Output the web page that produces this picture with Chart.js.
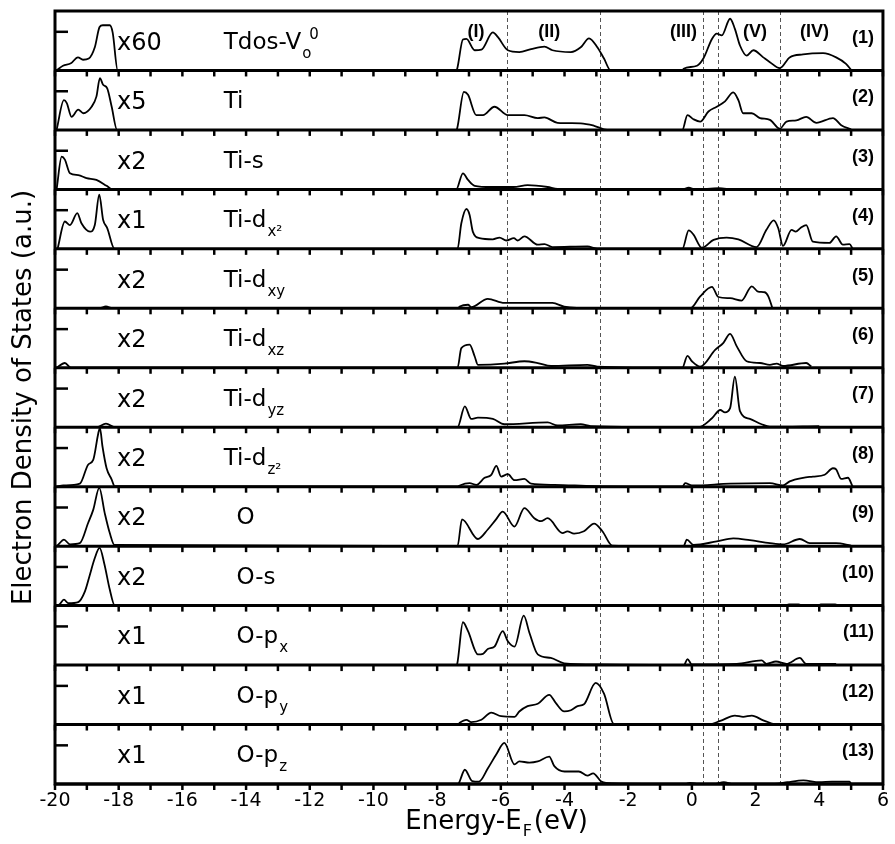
<!DOCTYPE html>
<html>
<head>
<meta charset="utf-8">
<script src="https://cdn.jsdelivr.net/npm/chart.js@4.4.1/dist/chart.umd.min.js"></script>
<style>
  html, body { margin: 0; padding: 0; background: #fff; }
  #wrap { width: 895px; height: 844px; }
</style>
</head>
<body>
<div id="wrap"><canvas id="dosChart"></canvas></div>
<script>
// partial DOS, one panel each, values in panel units (0 = baseline, 1 = panel top)
const tdos = [[-19.95,0],[-19.75,0.08],[-19.5,0.12],[-19.28,0.22],[-19.12,0.18],[-18.94,0.2],[-18.75,0.39],[-18.6,0.73],[-18.5,0.76],[-18.28,0.76],[-18.19,0.64],[-18.03,0],
  [-7.4,0],[-7.37,0.03],[-7.19,0.52],[-7.08,0.53],[-6.82,0.34],[-6.61,0.35],[-6.25,0.64],[-6.09,0.56],[-5.78,0.34],[-5.42,0.31],[-5.05,0.36],[-4.63,0.4],[-4.38,0.34],[-3.8,0.31],[-3.49,0.39],[-3.23,0.54],[-2.97,0.39],[-2.76,0.2],[-2.55,0],
  [-0.3,0],[-0.26,0.03],[0.16,0.08],[0.36,0.2],[0.63,0.53],[0.78,0.62],[0.94,0.59],[1.2,0.87],[1.35,0.7],[1.51,0.42],[1.72,0.25],[1.93,0.34],[2.24,0.22],[2.45,0.14],[2.76,0.04],[3.07,0.22],[3.49,0.27],[4.12,0.29],[4.53,0.22],[4.84,0.11],[5.0,0.01]];
const ti = [[-19.95,0],[-19.72,0.5],[-19.63,0.45],[-19.48,0.22],[-19.27,0.34],[-19.11,0.28],[-18.85,0.39],[-18.7,0.56],[-18.59,0.87],[-18.49,0.76],[-18.36,0.7],[-18.22,0.39],[-18.05,0],
  [-7.4,0],[-7.37,0.03],[-7.16,0.64],[-7.03,0.59],[-6.77,0.25],[-6.56,0.25],[-6.2,0.39],[-5.78,0.25],[-5.26,0.25],[-4.84,0.2],[-4.63,0.21],[-4.22,0.12],[-3.49,0.11],[-3.07,0.07],[-2.66,0],
  [-0.3,0],[-0.14,0.25],[0.05,0.18],[0.26,0.14],[0.52,0.31],[0.78,0.39],[1.04,0.48],[1.3,0.63],[1.46,0.5],[1.61,0.28],[1.88,0.28],[2.14,0.2],[2.45,0.17],[2.76,0.02],[2.97,0.14],[3.28,0.16],[3.59,0.22],[3.91,0.12],[4.43,0.2],[4.69,0.08],[5.0,0.01]];
const tiS = [[-19.95,0],[-19.79,0.55],[-19.69,0.5],[-19.53,0.27],[-19.27,0.24],[-19.01,0.19],[-18.7,0.16],[-18.38,0.06],[-18.2,0],
  [-7.4,0],[-7.19,0.27],[-7.03,0.16],[-6.82,0.06],[-6.3,0.04],[-5.6,0.04],[-5.16,0.07],[-4.53,0.04],[-4.22,0.01],
  [-0.3,0],[-0.1,0.03],[0.1,0],[0.85,0.02],[1.2,0]];
const tiDx2 = [[-19.92,0],[-19.69,0.46],[-19.53,0.4],[-19.3,0.6],[-19.17,0.43],[-18.9,0.29],[-18.75,0.4],[-18.61,0.91],[-18.49,0.49],[-18.36,0.35],[-18.13,0],
  [-7.36,0],[-7.24,0.43],[-7.08,0.67],[-6.98,0.57],[-6.88,0.29],[-6.67,0.18],[-6.25,0.16],[-6.04,0.19],[-5.83,0.14],[-5.59,0.18],[-5.47,0.14],[-5.26,0.21],[-4.84,0.07],[-4.63,0.08],[-4.38,0.03],[-3.28,0.04],[-2.97,0],
  [-0.3,0],[-0.1,0.31],[0.05,0.24],[0.31,0.02],[0.68,0.15],[1.09,0.19],[1.46,0.16],[2.03,0.03],[2.34,0.32],[2.57,0.48],[2.71,0.35],[2.86,0.05],[3.13,0.32],[3.26,0.29],[3.41,0.35],[3.59,0.4],[3.8,0.12],[4.32,0.1],[4.53,0.21],[4.74,0.07],[4.95,0.08],[5.05,0]];
const tiDxy = [[-19.95,0],[-18.6,0],[-18.4,0.03],[-18.2,0],
  [-7.35,0],[-7.29,0.03],[-7.03,0.06],[-6.93,0.02],[-6.41,0.16],[-5.89,0.09],[-5.05,0.09],[-4.38,0.09],[-4.01,0.03],[-3.07,0],
  [-0.05,0],[0.26,0.2],[0.63,0.36],[0.83,0.19],[1.2,0.17],[1.56,0.13],[1.88,0.37],[2.08,0.28],[2.29,0.27],[2.4,0.2],[2.53,0]];
const tiDxz = [[-19.95,0],[-19.69,0.08],[-19.5,0],
  [-7.36,0],[-7.24,0.33],[-6.98,0.39],[-6.82,0.19],[-6.72,0.05],[-5.89,0.07],[-5.26,0.11],[-4.84,0.08],[-4.42,0.03],[-3.28,0.05],[-2.97,0.02],
  [-0.3,0],[-0.14,0.2],[0.0,0.11],[0.26,0.02],[0.73,0.3],[0.99,0.42],[1.2,0.57],[1.41,0.36],[1.72,0.11],[2.14,0.08],[2.45,0.05],[2.66,0.07],[2.86,0.03],[3.59,0.08],[3.75,0.02]];
const tiDyz = [[-19.95,0],[-18.7,0],[-18.4,0.06],[-18.1,0],
  [-7.36,0],[-7.13,0.35],[-6.93,0.14],[-6.72,0.16],[-6.25,0.14],[-5.89,0.05],[-4.53,0.08],[-4.22,0.03],[-3.49,0.05],[-3.18,0.02],
  [0.2,0],[0.63,0.15],[0.89,0.29],[1.04,0.25],[1.2,0.32],[1.35,0.85],[1.51,0.27],[1.82,0.14],[2.19,0.05],[2.45,0.01],[4.0,0.02]];
const tiDz2 = [[-19.95,0],[-19.74,0.02],[-19.22,0.05],[-18.96,0.37],[-18.8,0.45],[-18.64,0.9],[-18.59,0.99],[-18.51,0.68],[-18.38,0.31],[-18.22,0.12],[-18.13,0.01],
  [-7.35,0],[-7.29,0.02],[-6.98,0.06],[-6.77,0.03],[-6.51,0.15],[-6.3,0.2],[-6.14,0.35],[-5.99,0.17],[-5.78,0.21],[-5.57,0.11],[-5.26,0.13],[-5.05,0.05],[-4.32,0.03],[-3.07,0.01],
  [-0.3,0],[-0.21,0.06],[0.0,0.02],[1.2,0.05],[2.45,0.06],[2.86,0.02],[3.07,0.09],[3.49,0.15],[3.8,0.17],[4.17,0.2],[4.43,0.31],[4.53,0.29],[4.69,0.13],[4.9,0.15],[5.05,0]];
const oTot = [[-19.95,0],[-19.89,0.03],[-19.72,0.11],[-19.53,0.03],[-19.22,0.05],[-18.96,0.39],[-18.8,0.61],[-18.61,0.98],[-18.44,0.56],[-18.28,0.22],[-18.13,0.02],
  [-7.36,0],[-7.22,0.45],[-6.72,0.12],[-6.41,0.28],[-6.15,0.45],[-5.94,0.58],[-5.57,0.33],[-5.26,0.64],[-4.95,0.47],[-4.74,0.42],[-4.53,0.47],[-4.06,0.22],[-3.91,0.25],[-3.7,0.21],[-3.39,0.25],[-3.07,0.38],[-2.81,0.25],[-2.5,0.01],
  [-0.26,0],[-0.16,0.11],[0.05,0.02],[0.78,0.08],[1.3,0.13],[1.82,0.1],[2.45,0.05],[2.86,0.03],[3.39,0.12],[3.7,0.05],[4.53,0.05],[5.0,0.01]];
const oS = [[-19.95,0],[-19.86,0.02],[-19.72,0.1],[-19.58,0.04],[-19.27,0.06],[-19.06,0.24],[-18.92,0.49],[-18.75,0.8],[-18.6,0.97],[-18.45,0.7],[-18.28,0.27],[-18.13,0.01],
  [2.9,0],[3.05,0.02],[3.35,0.02],[3.5,0],[3.95,0],[4.05,0.02],[4.5,0.02],[4.6,0]];
const oPx = [[-19.95,0],[-7.4,0],[-7.37,0.02],[-7.19,0.72],[-7.03,0.57],[-6.72,0.18],[-6.56,0.19],[-6.41,0.27],[-6.2,0.31],[-5.94,0.57],[-5.78,0.4],[-5.57,0.31],[-5.28,0.83],[-5.1,0.54],[-4.84,0.18],[-4.43,0.12],[-4.01,0.03],[-2.86,0.01],
  [-0.25,0],[-0.14,0.1],[0.0,0.01],[1.41,0.02],[2.19,0.08],[2.34,0.02],[2.64,0.06],[2.97,0.02],[3.39,0.12],[3.59,0.02],[4.53,0.02]];
const oPy = [[-19.95,0],[-7.35,0],[-7.29,0.03],[-7.08,0.08],[-6.93,0.04],[-6.61,0.08],[-6.3,0.2],[-5.99,0.14],[-5.57,0.13],[-5.42,0.22],[-5.16,0.31],[-4.84,0.35],[-4.48,0.5],[-4.27,0.36],[-4.01,0.22],[-3.8,0.24],[-3.59,0.31],[-3.39,0.34],[-3.02,0.7],[-2.76,0.52],[-2.45,0.01],
  [0.5,0],[0.89,0.06],[1.35,0.15],[1.61,0.13],[1.88,0.15],[2.24,0.07],[2.55,0.01]];
const oPz = [[-19.95,0],[-7.35,0],[-7.13,0.24],[-6.9,0.05],[-6.69,0.04],[-6.41,0.26],[-6.14,0.5],[-5.89,0.69],[-5.57,0.33],[-5.42,0.38],[-5.1,0.36],[-4.84,0.38],[-4.48,0.46],[-4.32,0.3],[-4.0,0.21],[-3.55,0.21],[-3.28,0.14],[-3.1,0.18],[-2.84,0.04],[-2.48,0.01],
  [-0.2,0],[-0.06,0.02],[0.2,0],[0.7,0],[1.0,0.03],[1.3,0],[2.6,0],[3.0,0.03],[3.5,0.06],[4.0,0.03],[4.4,0.04],[4.95,0.04],[5.0,0]];

const panelData = [tdos, ti, tiS, tiDx2, tiDxy, tiDxz, tiDyz, tiDz2, oTot, oS, oPx, oPy, oPz];
const factors = ['x60', 'x5', 'x2', 'x1', 'x2', 'x2', 'x2', 'x2', 'x2', 'x2', 'x1', 'x1', 'x1'];
const names = ['Tdos-V', 'Ti', 'Ti-s', 'Ti-d', 'Ti-d', 'Ti-d', 'Ti-d', 'Ti-d', 'O', 'O-s', 'O-p', 'O-p', 'O-p'];
const nameSubs = ['o', '', '', 'x²', 'xy', 'xz', 'yz', 'z²', '', '', 'x', 'y', 'z'];
const nameSups = ['0', '', '', '', '', '', '', '', '', '', '', '', ''];
const regionLabels = ['(I)', '(II)', '(III)', '(V)', '(IV)'];
const regionLabelE = [-6.78, -4.48, -0.26, 1.98, 3.85];
const regionBounds = [-5.81, -2.9, 0.34, 0.81, 2.78];
const yTickLevel = 0.65;

const FONT = '"DejaVu Sans", "Liberation Sans", Arial, sans-serif';
const BOLD_FONT = '"Liberation Sans", Arial, sans-serif';

function drawName(ctx, x, y, main, sub, sup) {
  ctx.font = '23px ' + FONT;
  ctx.fillText(main, x, y);
  const w = ctx.measureText(main).width;
  ctx.font = '15px ' + FONT;
  if (sub) ctx.fillText(sub, x + w + 1, y + 9);
  if (sup) ctx.fillText(sup, x + w + 8, y - 10);
}

const panelDecor = {
  id: 'panelDecor',
  beforeDatasetsDraw(chart) {
    const { ctx, chartArea } = chart;
    const xs = chart.scales.x;
    ctx.save();
    ctx.strokeStyle = '#555';
    ctx.lineWidth = 1;
    ctx.setLineDash([4, 3]);
    regionBounds.forEach(e => {
      const px = Math.round(xs.getPixelForValue(e)) + 0.5;
      ctx.beginPath();
      ctx.moveTo(px, chartArea.top);
      ctx.lineTo(px, chartArea.bottom);
      ctx.stroke();
    });
    ctx.restore();
  },
  afterDraw(chart) {
    const { ctx, chartArea } = chart;
    const xs = chart.scales.x;
    ctx.save();
    ctx.strokeStyle = '#000';
    ctx.fillStyle = '#000';

    panelData.forEach((d, i) => {
      const s = chart.scales['p' + i];
      // separator / bottom line
      ctx.lineWidth = 3;
      ctx.beginPath();
      ctx.moveTo(chartArea.left, s.bottom);
      ctx.lineTo(chartArea.right, s.bottom);
      ctx.stroke();
      // x ticks hanging below each panel
      ctx.lineWidth = 2.5;
      for (let e = Math.ceil(xs.min); e <= xs.max; e++) {
        const px = xs.getPixelForValue(e);
        ctx.beginPath();
        ctx.moveTo(px, s.bottom);
        ctx.lineTo(px, s.bottom + 6);
        ctx.stroke();
      }
      // single y tick
      const ty = s.getPixelForValue(yTickLevel);
      ctx.beginPath();
      ctx.moveTo(chartArea.left, ty);
      ctx.lineTo(chartArea.left + 13, ty);
      ctx.stroke();

      // labels
      const mid = s.getPixelForValue(0.5);
      ctx.textAlign = 'left';
      ctx.textBaseline = 'alphabetic';
      ctx.font = '24px ' + FONT;
      ctx.fillText(factors[i], xs.getPixelForValue(-18.05), mid + 9);
      drawName(ctx, xs.getPixelForValue(i < 8 ? -14.7 : -14.3), mid + 8, names[i], nameSubs[i], nameSups[i]);
      ctx.font = 'bold 18px ' + BOLD_FONT;
      ctx.textAlign = 'right';
      ctx.textBaseline = 'middle';
      ctx.fillText('(' + (i + 1) + ')', chartArea.right - 9, s.getPixelForValue(0.55));
    });

    // region labels in the top panel
    const top = chart.scales.p0;
    ctx.font = 'bold 18px ' + BOLD_FONT;
    ctx.textAlign = 'center';
    ctx.textBaseline = 'middle';
    regionLabels.forEach((t, k) => {
      ctx.fillText(t, xs.getPixelForValue(regionLabelE[k]), top.getPixelForValue(0.64));
    });

    // frame
    ctx.lineWidth = 3;
    ctx.strokeRect(chartArea.left, chartArea.top, chartArea.right - chartArea.left, chartArea.bottom - chartArea.top);

    // axis titles
    ctx.font = '26px ' + FONT;
    ctx.textAlign = 'left';
    ctx.textBaseline = 'alphabetic';
    const tx = xs.getPixelForValue(-9.0);
    const tyb = 829;
    ctx.fillText('Energy-E', tx, tyb);
    const w = ctx.measureText('Energy-E').width;
    ctx.font = '16px ' + FONT;
    ctx.fillText('F', tx + w + 1, tyb + 7);
    const wf = ctx.measureText('F').width;
    ctx.font = '26px ' + FONT;
    ctx.fillText('(eV)', tx + w + wf + 3, tyb);

    ctx.translate(24, (chartArea.top + chartArea.bottom) / 2);
    ctx.rotate(-Math.PI / 2);
    ctx.textAlign = 'center';
    ctx.textBaseline = 'middle';
    ctx.fillText('Electron Density of States (a.u.)', 0, 0);
    ctx.restore();
  }
};

const scales = {
  x: {
    type: 'linear',
    position: 'bottom',
    min: -20,
    max: 6,
    grid: { display: false, drawTicks: false },
    border: { display: false },
    ticks: { stepSize: 2, autoSkip: false, maxRotation: 0, padding: 6, color: '#000', font: { family: FONT, size: 19 } },
    afterFit(s) { s.height = 60; }
  }
};
panelData.forEach((d, i) => {
  scales['p' + i] = {
    type: 'linear',
    position: 'left',
    stack: 'panels',
    stackWeight: 1,
    weight: panelData.length - i,
    min: 0,
    max: 1,
    grid: { display: false },
    border: { display: false },
    ticks: { display: false },
    afterFit(s) { s.width = 55; }
  };
});

new Chart(document.getElementById('dosChart'), {
  type: 'line',
  data: {
    datasets: panelData.map((d, i) => ({
      label: names[i] + nameSubs[i],
      data: d.map(p => ({ x: p[0], y: p[1] })),
      yAxisID: 'p' + i,
      borderColor: '#000',
      borderWidth: 1.8,
      pointRadius: 0,
      fill: false,
      cubicInterpolationMode: 'monotone'
    }))
  },
  options: {
    responsive: true,
    maintainAspectRatio: false,
    animation: false,
    layout: { padding: { top: 11, right: 8, left: 0, bottom: 0 } },
    scales: scales,
    plugins: {
      legend: { display: false },
      tooltip: { enabled: false }
    }
  },
  plugins: [panelDecor]
});
</script>
</body>
</html>
